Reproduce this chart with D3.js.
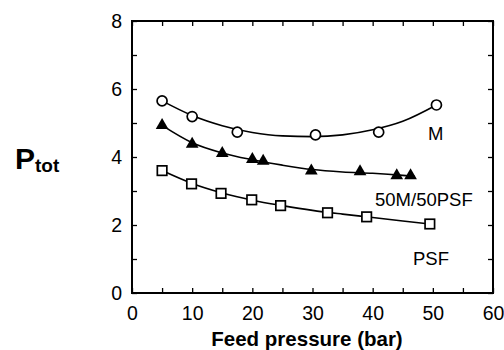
<!DOCTYPE html>
<html>
<head>
<meta charset="utf-8">
<script src="https://cdn.jsdelivr.net/npm/d3@7"></script>
<style>
  html, body { margin: 0; padding: 0; background: #fff; }
  svg { display: block; }
  text { font-family: "Liberation Sans", Arial, Helvetica, sans-serif; fill: #000; }
</style>
</head>
<body>
<svg id="chart" width="504" height="350"></svg>
<script>
// ---- data ----
const xTickLabels = [0, 10, 20, 30, 40, 50, 60];
const yTickLabels = [0, 2, 4, 6, 8];

// M (open circles)
const mX = [5, 10, 17.5, 30.5, 41, 50.6];
const mY = [5.65, 5.19, 4.73, 4.65, 4.73, 5.53];
const mFitX = [5, 10, 15, 20, 25, 30, 35, 40, 45, 50.6];
const mFitY = [5.65, 5.22, 4.92, 4.72, 4.62, 4.6, 4.65, 4.8, 5.05, 5.53];

// 50M/50PSF (filled triangles)
const blendX = [5, 10, 15, 20, 21.8, 29.8, 37.9, 44, 46.3];
const blendY = [4.93, 4.38, 4.11, 3.93, 3.88, 3.59, 3.57, 3.45, 3.45];
const blendFitX = [5, 10, 15, 20, 25, 30, 35, 40, 45, 47];
const blendFitY = [4.93, 4.42, 4.12, 3.92, 3.76, 3.63, 3.56, 3.52, 3.46, 3.43];

// PSF (open squares)
const psfX = [5, 9.9, 14.8, 19.9, 24.7, 32.5, 39, 49.5];
const psfY = [3.6, 3.21, 2.93, 2.74, 2.57, 2.36, 2.24, 2.03];
const psfFitX = [5, 10, 15, 20, 25, 30, 35, 40, 45, 49.5];
const psfFitY = [3.6, 3.22, 2.94, 2.73, 2.57, 2.43, 2.32, 2.22, 2.12, 2.03];

const seriesLabels = ["M", "50M/50PSF", "PSF"];

// ---- layout ----
const svg = d3.select("#chart");
const L = 132, R = 493, T = 21, B = 293;
const x = d3.scaleLinear().domain([0, 60]).range([L, R]);
const y = d3.scaleLinear().domain([0, 8]).range([B, T]);

const tickLen = 5;
const xMinor = d3.range(0, 61, 5);
const yMinor = d3.range(0, 9, 1);

// bottom axis
svg.append("g").attr("transform", `translate(0,${B})`)
  .call(d3.axisBottom(x).tickValues(xMinor).tickSizeInner(-tickLen).tickSizeOuter(0).tickPadding(13)
    .tickFormat(d => xTickLabels.includes(d) ? d : ""));
// top axis
svg.append("g").attr("transform", `translate(0,${T})`)
  .call(d3.axisTop(x).tickValues(xMinor).tickSizeInner(-tickLen).tickSizeOuter(0).tickFormat(""));
// left axis
svg.append("g").attr("transform", `translate(${L},0)`)
  .call(d3.axisLeft(y).tickValues(yMinor).tickSizeInner(-tickLen).tickSizeOuter(0).tickPadding(10)
    .tickFormat(d => yTickLabels.includes(d) ? d : ""));
// right axis
svg.append("g").attr("transform", `translate(${R},0)`)
  .call(d3.axisRight(y).tickValues(yMinor).tickSizeInner(-tickLen).tickSizeOuter(0).tickFormat(""));

svg.selectAll(".domain").remove();
svg.selectAll(".tick line").attr("stroke", "#000").attr("stroke-width", 1.3);
svg.selectAll(".tick text").style("font-size", "19.5px").attr("fill", "#000");

// frame
svg.append("rect").attr("x", L).attr("y", T).attr("width", R - L).attr("height", B - T)
  .attr("fill", "none").attr("stroke", "#000").attr("stroke-width", 2);

// fit lines
const line = d3.line().x(d => x(d[0])).y(d => y(d[1])).curve(d3.curveMonotoneX);
[[mFitX, mFitY], [blendFitX, blendFitY], [psfFitX, psfFitY]].forEach(([xs, ys]) => {
  svg.append("path").datum(xs.map((v, i) => [v, ys[i]]))
    .attr("d", line).attr("fill", "none").attr("stroke", "#000").attr("stroke-width", 1.6);
});

// markers
svg.append("g").selectAll("circle").data(mX.map((v, i) => [v, mY[i]])).join("circle")
  .attr("cx", d => x(d[0])).attr("cy", d => y(d[1])).attr("r", 5)
  .attr("fill", "#fff").attr("stroke", "#000").attr("stroke-width", 1.7);

const tri = d3.symbol().type(d3.symbolTriangle).size(70);
svg.append("g").selectAll("path").data(blendX.map((v, i) => [v, blendY[i]])).join("path")
  .attr("transform", d => `translate(${x(d[0])},${y(d[1])})`).attr("d", tri)
  .attr("fill", "#000");

const sq = 9.5;
svg.append("g").selectAll("rect").data(psfX.map((v, i) => [v, psfY[i]])).join("rect")
  .attr("x", d => x(d[0]) - sq / 2).attr("y", d => y(d[1]) - sq / 2)
  .attr("width", sq).attr("height", sq)
  .attr("fill", "#fff").attr("stroke", "#000").attr("stroke-width", 1.7);

// series labels
const labelPos = [[428, 140], [375, 206], [413, 265]];
svg.append("g").selectAll("text").data(seriesLabels).join("text")
  .attr("x", (d, i) => labelPos[i][0]).attr("y", (d, i) => labelPos[i][1])
  .style("font-size", "18.5px").text(d => d);

// axis title
svg.append("text").attr("x", 307).attr("y", 346).attr("text-anchor", "middle")
  .style("font-size", "20.5px").style("font-weight", "bold").text("Feed pressure (bar)");

// y label P_tot
const yl = svg.append("text").attr("x", 15).attr("y", 169).style("font-weight", "bold");
yl.append("tspan").style("font-size", "30px").text("P");
yl.append("tspan").style("font-size", "19px").attr("dy", 3).text("tot");
</script>
</body>
</html>
